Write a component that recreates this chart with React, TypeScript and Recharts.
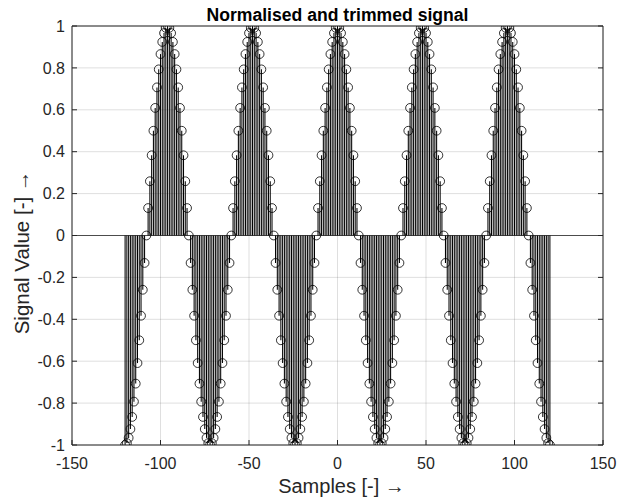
import React from 'react';
import {
  ComposedChart,
  Scatter,
  XAxis,
  YAxis,
  CartesianGrid,
  ReferenceLine,
  ErrorBar,
} from 'recharts';

// Sample index of the first stem (samples run -120 … 120, one per integer)
const firstSample = -120;

// Normalised, trimmed signal values (one per sample)
const signal: number[] = [
  -1, -0.991, -0.966, -0.924, -0.866, -0.793, -0.707, -0.609, -0.5, -0.383, -0.259, -0.131,
  0, 0.131, 0.259, 0.383, 0.5, 0.609, 0.707, 0.793, 0.866, 0.924, 0.966, 0.991,
  1, 0.991, 0.966, 0.924, 0.866, 0.793, 0.707, 0.609, 0.5, 0.383, 0.259, 0.131,
  0, -0.131, -0.259, -0.383, -0.5, -0.609, -0.707, -0.793, -0.866, -0.924, -0.966, -0.991,
  -1, -0.991, -0.966, -0.924, -0.866, -0.793, -0.707, -0.609, -0.5, -0.383, -0.259, -0.131,
  0, 0.131, 0.259, 0.383, 0.5, 0.609, 0.707, 0.793, 0.866, 0.924, 0.966, 0.991,
  1, 0.991, 0.966, 0.924, 0.866, 0.793, 0.707, 0.609, 0.5, 0.383, 0.259, 0.131,
  0, -0.131, -0.259, -0.383, -0.5, -0.609, -0.707, -0.793, -0.866, -0.924, -0.966, -0.991,
  -1, -0.991, -0.966, -0.924, -0.866, -0.793, -0.707, -0.609, -0.5, -0.383, -0.259, -0.131,
  0, 0.131, 0.259, 0.383, 0.5, 0.609, 0.707, 0.793, 0.866, 0.924, 0.966, 0.991,
  1, 0.991, 0.966, 0.924, 0.866, 0.793, 0.707, 0.609, 0.5, 0.383, 0.259, 0.131,
  0, -0.131, -0.259, -0.383, -0.5, -0.609, -0.707, -0.793, -0.866, -0.924, -0.966, -0.991,
  -1, -0.991, -0.966, -0.924, -0.866, -0.793, -0.707, -0.609, -0.5, -0.383, -0.259, -0.131,
  0, 0.131, 0.259, 0.383, 0.5, 0.609, 0.707, 0.793, 0.866, 0.924, 0.966, 0.991,
  1, 0.991, 0.966, 0.924, 0.866, 0.793, 0.707, 0.609, 0.5, 0.383, 0.259, 0.131,
  0, -0.131, -0.259, -0.383, -0.5, -0.609, -0.707, -0.793, -0.866, -0.924, -0.966, -0.991,
  -1, -0.991, -0.966, -0.924, -0.866, -0.793, -0.707, -0.609, -0.5, -0.383, -0.259, -0.131,
  0, 0.131, 0.259, 0.383, 0.5, 0.609, 0.707, 0.793, 0.866, 0.924, 0.966, 0.991,
  1, 0.991, 0.966, 0.924, 0.866, 0.793, 0.707, 0.609, 0.5, 0.383, 0.259, 0.131,
  0, -0.131, -0.259, -0.383, -0.5, -0.609, -0.707, -0.793, -0.866, -0.924, -0.966, -0.991,
  -1,
];

const xTicks = [-150, -100, -50, 0, 50, 100, 150];
const yTicks = [-1, -0.8, -0.6, -0.4, -0.2, 0, 0.2, 0.4, 0.6, 0.8, 1];

const titleText = 'Normalised and trimmed signal';
const xLabelText = 'Samples [-] \u2192';
const yLabelText = 'Signal Value [-] \u2192';

// Stem data: error bar spans from the value to the zero baseline
const data = signal.map((v, i) => ({
  n: firstSample + i,
  v,
  stem: v > 0 ? [v, 0] : [0, -v],
}));

const FONT = '"Liberation Sans", Arial, Helvetica, sans-serif';
const AX = '#262626';

const Ring = (props: any) => {
  const { cx, cy } = props;
  if (cx == null || cy == null) return null;
  return <circle cx={cx} cy={cy} r={4.4} fill="none" stroke="#000" strokeWidth={0.8} />;
};

const NoTick = () => <g />;

const TitleLabel = (props: any) => {
  const vb = props.viewBox || {};
  const x = vb.x + vb.width / 2;
  const y = vb.y + vb.height - 5;
  return (
    <text x={x} y={y} textAnchor="middle" fill="#000" fontSize={17.6} fontWeight="bold" fontFamily={FONT}>
      {titleText}
    </text>
  );
};

const XLabel = (props: any) => {
  const vb = props.viewBox || {};
  const x = vb.x + vb.width / 2 + 4;
  const y = vb.y + 48;
  return (
    <text x={x} y={y} textAnchor="middle" fill={AX} fontSize={20} fontFamily={FONT}>
      {xLabelText}
    </text>
  );
};

const YLabel = (props: any) => {
  const vb = props.viewBox || {};
  const x = vb.x + 29;
  const y = vb.y + vb.height / 2 + 17;
  return (
    <text
      x={x}
      y={y}
      transform={`rotate(-90, ${x}, ${y})`}
      textAnchor="middle"
      fill={AX}
      fontSize={20.5}
      fontFamily={FONT}
    >
      {yLabelText}
    </text>
  );
};

export default function App() {
  return (
    <div style={{ position: 'absolute', left: 0, top: 0, width: 633, height: 500, background: '#fff' }}>
      <ComposedChart
        width={633}
        height={500}
        margin={{ top: 0, right: 0, bottom: 0, left: 0 }}
        style={{ fontFamily: FONT }}
      >
        <CartesianGrid
          xAxisId="b"
          yAxisId="l"
          stroke={AX}
          strokeOpacity={0.15}
          strokeWidth={1}
        />
        <XAxis
          xAxisId="b"
          dataKey="n"
          type="number"
          domain={[-150, 150]}
          ticks={xTicks}
          allowDataOverflow
          height={55}
          tickSize={-5}
          tickMargin={18}
          stroke={AX}
          tick={{ fill: AX, fontSize: 16, fontFamily: FONT }}
          axisLine={{ stroke: AX, strokeWidth: 1 }}
          tickLine={{ stroke: AX, strokeWidth: 1 }}
          label={XLabel}
        />
        <XAxis
          xAxisId="t"
          orientation="top"
          type="number"
          domain={[-150, 150]}
          ticks={xTicks}
          allowDataOverflow
          height={26}
          tickSize={-5}
          stroke={AX}
          tick={NoTick}
          axisLine={{ stroke: AX, strokeWidth: 1 }}
          tickLine={{ stroke: AX, strokeWidth: 1 }}
          label={TitleLabel}
        />
        <YAxis
          yAxisId="l"
          type="number"
          domain={[-1, 1]}
          ticks={yTicks}
          allowDataOverflow
          width={72}
          tickSize={-5}
          tickMargin={12}
          stroke={AX}
          tick={{ fill: AX, fontSize: 16, fontFamily: FONT }}
          axisLine={{ stroke: AX, strokeWidth: 1 }}
          tickLine={{ stroke: AX, strokeWidth: 1 }}
          label={YLabel}
        />
        <YAxis
          yAxisId="r"
          orientation="right"
          type="number"
          domain={[-1, 1]}
          ticks={yTicks}
          allowDataOverflow
          width={30}
          tickSize={-5}
          stroke={AX}
          tick={NoTick}
          axisLine={{ stroke: AX, strokeWidth: 1 }}
          tickLine={{ stroke: AX, strokeWidth: 1 }}
        />
        <ReferenceLine xAxisId="b" yAxisId="l" y={0} stroke={AX} strokeWidth={0.8} />
        <Scatter
          xAxisId="b"
          yAxisId="l"
          data={data}
          dataKey="v"
          isAnimationActive={false}
          shape={Ring}
        >
          <ErrorBar
            dataKey="stem"
            direction="y"
            width={0}
            stroke="#000"
            strokeWidth={1.05}
            isAnimationActive={false}
          />
        </Scatter>
      </ComposedChart>
    </div>
  );
}
